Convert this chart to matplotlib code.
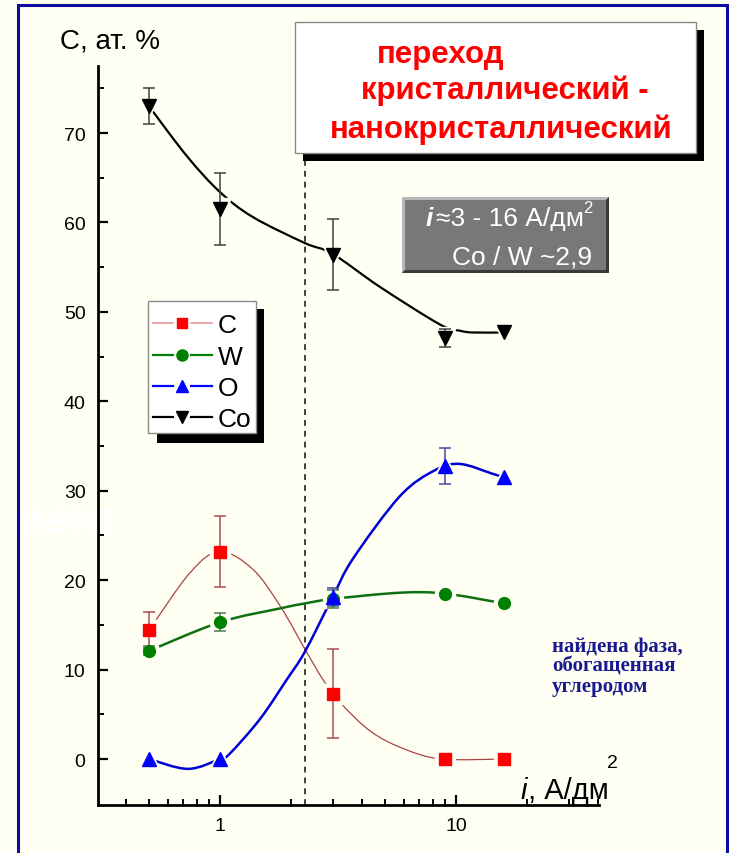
import numpy as np
import matplotlib
matplotlib.use("Agg")
import matplotlib.pyplot as plt
from matplotlib.path import Path
from matplotlib.patches import PathPatch, Rectangle, Polygon
from matplotlib.lines import Line2D
from matplotlib.ticker import LogLocator, NullFormatter, FixedLocator

plt.rcParams['font.family'] = ['Liberation Sans', 'DejaVu Sans']

# ---------------- data ----------------
current = [0.5, 1, 3, 9, 16]                 # i, A/dm^2
c_vals = [14.4, 23.2, 7.3, 0.0, 0.0]
c_err = [2.0, 4.0, 5.0, 0.0, 0.0]
w_vals = [12.1, 15.3, 17.9, 18.5, 17.4]
w_err = [0.5, 1.0, 1.0, 0.0, 0.0]
o_vals = [0.0, 0.0, 18.1, 32.8, 31.5]
o_err = [0.0, 0.0, 1.0, 2.0, 0.0]
co_vals = [73.0, 61.5, 56.4, 47.1, 47.7]
co_err = [2.0, 4.0, 4.0, 1.0, 0.0]

# smooth (spline) curves as drawn in the picture, nodes
c_curve_x = [0.5, 0.75, 1.0, 1.38, 1.8, 2.29, 2.73, 3.29, 4.4, 6.08, 8.7, 16]
c_curve_y = [14.4, 20.9, 23.2, 21.2, 17.1, 12.3, 8.9, 6.1, 3.0, 1.1, 0.0, 0.0]
w_curve_x = [0.5, 1.0, 1.8, 2.29, 3.0, 5.8, 9.0, 16]
w_curve_y = [12.1, 15.3, 16.85, 17.4, 17.9, 18.6, 18.5, 17.4]
o_curve_x = [0.5, 0.73, 1.0, 1.1, 1.48, 1.92, 2.29, 3.0, 3.66, 5.79, 8.15, 10.4, 14.3, 16]
o_curve_y = [0.0, -1.1, 0.0, 0.6, 4.5, 8.9, 12.0, 18.1, 22.4, 29.4, 32.3, 33.0, 31.9, 31.5]
co_curve_x = [0.5, 0.725, 1.0, 1.38, 2.29, 3.0, 4.76, 8.55, 10.4, 11.8, 15.8]
co_curve_y = [73.0, 67.4, 63.4, 60.6, 57.7, 56.5, 52.8, 48.6, 47.9, 47.7, 47.7]

transition_x = 2.29
series_names = ['C', 'W', 'O', 'Co']
y_ticks = [0, 10, 20, 30, 40, 50, 60, 70]
x_ticks = [1, 10]
x_ticklabels = ['1', '10']

BG = '#fffff3'
W, H = 729, 854


def fx(px):
    return px / W


def fy(py):
    return 1 - py / H


def spline_path(xs, ys):
    lx = np.log10(np.asarray(xs, float))
    P = np.column_stack([lx, np.asarray(ys, float)])
    n = len(P)
    verts = [P[0]]
    codes = [Path.MOVETO]
    for i in range(n - 1):
        p0 = P[i - 1] if i > 0 else P[i]
        p1, p2 = P[i], P[i + 1]
        p3 = P[i + 2] if i + 2 < n else P[i + 1]
        c1 = p1 + (p2 - p0) / 6.0
        c2 = p2 - (p3 - p1) / 6.0
        verts += [c1, c2, p2]
        codes += [Path.CURVE4] * 3
    verts = np.array(verts)
    verts[:, 0] = 10 ** verts[:, 0]
    return Path(verts, codes)


fig = plt.figure(figsize=(W / 100, H / 100), dpi=100)
fig.patch.set_facecolor(BG)
renderer = fig.canvas.get_renderer()


def right_px(t):
    return t.get_window_extent(renderer).x1


# watermark fragment (faint, behind everything)
fig.text(fx(118), fy(534), 'мент', color='#ffffff', fontsize=32, fontweight='bold',
         ha='right', va='baseline', zorder=-5)

ax = fig.add_axes([fx(98), fy(806), fx(599) - fx(98), fy(67) - fy(806)])
ax.set_zorder(1)
ax.set_facecolor('none')
ax.set_xscale('log')
ax.set_xlim(0.304, 40.4)
ax.set_ylim(-5.14, 77.5)

for s in ['top', 'right']:
    ax.spines[s].set_visible(False)
for s in ['left', 'bottom']:
    ax.spines[s].set_linewidth(2.0)
    ax.spines[s].set_color('black')

ax.set_xticks(x_ticks)
ax.set_xticklabels(x_ticklabels)
ax.xaxis.set_minor_locator(LogLocator(base=10, subs=np.arange(2, 10)))
ax.xaxis.set_minor_formatter(NullFormatter())
ax.set_yticks(y_ticks)
ax.yaxis.set_minor_locator(FixedLocator([5, 15, 25, 35, 45, 55, 65, 75]))
ax.tick_params(which='major', direction='in', length=7, width=1.6, labelsize=14, pad=9)
ax.tick_params(which='minor', direction='in', length=4, width=1.4)

ax.axvline(transition_x, color='#202020', lw=1.2, ls=(0, (3.5, 3)), zorder=1)

curve_specs = [
    (c_curve_x, c_curve_y, '#a84444', 0.9),
    (w_curve_x, w_curve_y, '#0f700f', 1.8),
    (o_curve_x, o_curve_y, '#0000d8', 1.8),
    (co_curve_x, co_curve_y, '#000000', 1.6),
]
for xs, ys, col, lw in curve_specs:
    ax.add_patch(PathPatch(spline_path(xs, ys), fill=False, edgecolor=col, lw=lw,
                           zorder=2, capstyle='round'))

point_specs = [
    (c_vals, c_err, 's', 8, '#ff0000', '#a85050'),
    (w_vals, w_err, 'o', 8.5, '#008000', '#507850'),
    (o_vals, o_err, '^', 10, '#0000ff', '#4848a0'),
    (co_vals, co_err, 'v', 10, '#000000', '#404040'),
]
for vals, err, mk, ms, col, ecol in point_specs:
    ax.plot(current, vals, ls='none', marker=mk, ms=ms + 6, color=BG, mec=BG, zorder=3)
for vals, err, mk, ms, col, ecol in point_specs:
    e = np.asarray(err)
    m = e > 0
    ax.errorbar(np.asarray(current)[m], np.asarray(vals)[m], yerr=e[m], fmt='none',
                ecolor=ecol, elinewidth=1.1, capsize=4.5, capthick=1.1, zorder=4)
for vals, err, mk, ms, col, ecol in point_specs:
    ax.plot(current, vals, ls='none', marker=mk, ms=ms, color=col, mec=col, zorder=5)

# axis labels
fig.text(fx(60), fy(48), 'C, ат. %', fontsize=20, ha='left', va='baseline')
t_i = fig.text(fx(521), fy(799), 'i', fontsize=21, style='italic', ha='left', va='baseline')
t_u = fig.text(right_px(t_i) / W + fx(1), fy(799), ', А/дм', fontsize=21, ha='left', va='baseline')
fig.text(right_px(t_u) / W - fx(2), fy(768), '2', fontsize=14, ha='left', va='baseline')

# title box with shadow
fig.add_artist(Rectangle((fx(303), fy(162)), fx(704) - fx(303), fy(31) - fy(162),
                         transform=fig.transFigure, facecolor='black', edgecolor='none', zorder=5))
fig.add_artist(Rectangle((fx(295), fy(154)), fx(696) - fx(295), fy(23) - fy(154),
                         transform=fig.transFigure, facecolor='white', edgecolor='#8a8a8a',
                         lw=1, zorder=6))
title_lines = [('переход', 377, 63), ('кристаллический -', 361, 99), ('нанокристаллический', 330, 138)]
for txt, px, py in title_lines:
    fig.text(fx(px), fy(py), txt, fontsize=22.5, fontweight='bold',
             color='#ff0000', ha='left', va='baseline', zorder=7)

# info box (bevelled grey)
x0, x1, y0, y1 = 402, 609, 198, 274
fig.add_artist(Rectangle((fx(x0), fy(y1)), fx(x1) - fx(x0), fy(y0) - fy(y1),
                         transform=fig.transFigure, facecolor='#787878', edgecolor='none', zorder=5))
b = 3
fig.add_artist(Polygon([(fx(x0), fy(y0)), (fx(x1), fy(y0)), (fx(x1 - b), fy(y0 + b)),
                        (fx(x0 + b), fy(y0 + b)), (fx(x0 + b), fy(y1 - b)), (fx(x0), fy(y1))],
                       closed=True, transform=fig.transFigure, facecolor='#b8b8b8',
                       edgecolor='none', zorder=6))
fig.add_artist(Polygon([(fx(x1), fy(y0)), (fx(x1), fy(y1)), (fx(x0), fy(y1)),
                        (fx(x0 + b), fy(y1 - b)), (fx(x1 - b), fy(y1 - b)), (fx(x1 - b), fy(y0 + b))],
                       closed=True, transform=fig.transFigure, facecolor='#3a3a3a',
                       edgecolor='none', zorder=6))
t1 = fig.text(fx(426), fy(226), 'i', fontsize=19, style='italic', fontweight='bold',
              color='white', ha='left', va='baseline', zorder=7)
t2 = fig.text(right_px(t1) / W + fx(3), fy(226), '≈3 - 16 А/дм', fontsize=19,
              color='white', ha='left', va='baseline', zorder=7)
fig.text(right_px(t2) / W - fx(1), fy(213), '2', fontsize=12,
         color='white', ha='left', va='baseline', zorder=7)
fig.text(fx(592), fy(264), 'Co / W ~2,9', fontsize=19,
         color='white', ha='right', va='baseline', zorder=7)

# legend box with shadow
fig.add_artist(Rectangle((fx(157), fy(444)), fx(264) - fx(157), fy(310) - fy(444),
                         transform=fig.transFigure, facecolor='black', edgecolor='none', zorder=5))
fig.add_artist(Rectangle((fx(148), fy(434)), fx(256) - fx(148), fy(302) - fy(434),
                         transform=fig.transFigure, facecolor='white', edgecolor='#8a8a8a',
                         lw=1, zorder=6))
legend_specs = [('#e89090', 's', 7, '#ff0000', 324), ('#008000', 'o', 8, '#008000', 356),
                ('#0000ff', '^', 9, '#0000ff', 387), ('#000000', 'v', 9, '#000000', 418)]
for name, (lcol, mk, ms, mcol, py) in zip(series_names, legend_specs):
    for a, bb in [(153, 173), (191, 212)]:
        fig.add_artist(Line2D([fx(a), fx(bb)], [fy(py), fy(py)], transform=fig.transFigure,
                              color=lcol, lw=1.6 if lcol != '#e89090' else 1.1, zorder=7))
    fig.add_artist(Line2D([fx(182)], [fy(py)], transform=fig.transFigure, ls='none',
                          marker=mk, ms=ms, color=mcol, mec=mcol, zorder=7))
    fig.text(fx(218), fy(py), name, fontsize=19, ha='left', va='center_baseline', zorder=7)

# note on the right
note_lines = [('найдена фаза,', 652), ('обогащенная', 672), ('углеродом', 692)]
for txt, py in note_lines:
    fig.text(fx(552), fy(py), txt, family=['Liberation Serif', 'DejaVu Serif'], fontsize=15,
             fontweight='bold', color='#1a1a90', ha='left', va='baseline')

# blue frame
fig.add_artist(Rectangle((fx(18), fy(870)), fx(727) - fx(18), fy(6) - fy(870),
                         transform=fig.transFigure, fill=False, edgecolor='#0c0ca0', lw=2.2,
                         zorder=10))

fig.savefig('out.png', dpi=100, facecolor=BG)
